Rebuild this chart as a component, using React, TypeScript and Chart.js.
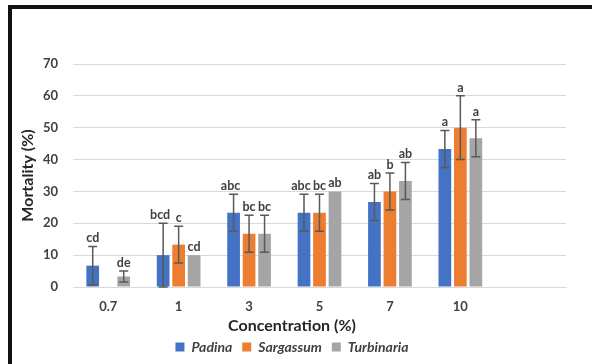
import React, { useEffect, useRef } from "react";
import { Chart, registerables } from "chart.js";

Chart.register(...registerables);

const categories = ["0.7", "1", "3", "5", "7", "10", ""];
const padina = [6.7, 10, 23.3, 23.3, 26.7, 43.3, null];
const padinaErr = [6, 10, 5.8, 5.8, 5.8, 5.8, null];
const padinaLetters = ["cd", "bcd", "abc", "abc", "ab", "a", ""];
const sargassum = [null, 13.3, 16.7, 23.3, 30, 50, null];
const sargassumErr = [null, 5.8, 5.8, 5.8, 5.8, 10, null];
const sargassumLetters = ["", "c", "bc", "bc", "b", "a", ""];
const turbinaria = [3.3, 10, 16.7, 30, 33.3, 46.7, null];
const turbinariaErr = [1.7, 0, 5.8, 0, 5.8, 5.8, null];
const turbinariaLetters = ["de", "cd", "bc", "ab", "ab", "a", ""];
const yTicks = [0, 10, 20, 30, 40, 50, 60, 70];

const FONT = "Lato, 'Open Sans', sans-serif";

const errorPlugin = {
  id: "errorBarsLetters",
  afterDatasetsDraw(chart: any) {
    const ctx = chart.ctx;
    const yScale = chart.scales.y;
    chart.data.datasets.forEach((ds: any, i: number) => {
      const meta = chart.getDatasetMeta(i);
      meta.data.forEach((el: any, j: number) => {
        const v = ds.data[j];
        if (v === null || v === undefined) return;
        const e = ds.errors[j] || 0;
        const x = el.x;
        const yTop = yScale.getPixelForValue(v + e);
        const yBot = yScale.getPixelForValue(Math.max(0, v - e));
        ctx.save();
        if (e > 0) {
          ctx.strokeStyle = "#595959";
          ctx.lineWidth = 1.5;
          ctx.beginPath();
          ctx.moveTo(x, yTop);
          ctx.lineTo(x, yBot);
          ctx.moveTo(x - 4.5, yTop);
          ctx.lineTo(x + 4.5, yTop);
          ctx.moveTo(x - 4.5, yBot);
          ctx.lineTo(x + 4.5, yBot);
          ctx.stroke();
        }
        const letter = ds.letters[j];
        if (letter) {
          ctx.fillStyle = "#404040";
          ctx.font = "bold 12.5px " + FONT;
          ctx.textAlign = "center";
          ctx.textBaseline = "bottom";
          const shift = i === 0 && letter.length > 2 ? -3 : 0;
          ctx.fillText(letter, x + shift, yTop - 2);
        }
        ctx.restore();
      });
    });
  },
};

export default function App() {
  const ref = useRef<HTMLCanvasElement>(null);
  useEffect(() => {
    document.body.style.margin = "0";
    const chart = new Chart(ref.current as HTMLCanvasElement, {
      type: "bar",
      data: {
        labels: categories,
        datasets: [
          { label: "Padina", data: padina, backgroundColor: "#4472C4", errors: padinaErr, letters: padinaLetters } as any,
          { label: "Sargassum", data: sargassum, backgroundColor: "#ED7D31", errors: sargassumErr, letters: sargassumLetters } as any,
          { label: "Turbinaria", data: turbinaria, backgroundColor: "#A5A5A5", errors: turbinariaErr, letters: turbinariaLetters } as any,
        ],
      },
      options: {
        responsive: false,
        animation: false,
        layout: { padding: { left: 18, right: 26, top: 64, bottom: 0 } },
        datasets: { bar: { categoryPercentage: 0.66, barPercentage: 0.82 } },
        plugins: {
          tooltip: { enabled: false },
          title: {
            display: true,
            position: "bottom",
            weight: 500,
            text: "Concentration (%)",
            color: "#262626",
            padding: { top: 4, bottom: -4 },
            font: { family: FONT, size: 16, weight: "bold", lineHeight: 1 },
          },
          legend: {
            position: "bottom",
            labels: {
              boxWidth: 9,
              boxHeight: 9,
              padding: 10,
              color: "#404040",
              font: { family: FONT, size: 14, weight: "bold", style: "italic" },
            },
          },
        },
        scales: {
          x: {
            grid: { display: false, drawTicks: false },
            border: { color: "#d9d9d9" },
            ticks: { color: "#404040", padding: 12, font: { family: FONT, size: 13, weight: "bold" } },
            afterFit: (scale: any) => {
              scale.height = 27;
            },
          },
          y: {
            min: 0,
            max: 70,
            afterBuildTicks: (scale: any) => {
              scale.ticks = yTicks.map((v) => ({ value: v }));
            },
            afterFit: (scale: any) => {
              scale.width = 55;
            },
            grid: { color: "#d9d9d9", drawTicks: false },
            border: { display: false },
            ticks: { color: "#404040", padding: 15, font: { family: FONT, size: 13, weight: "bold" } },
            title: {
              display: true,
              text: "Mortality (%)",
              color: "#262626",
              padding: 0,
              font: { family: FONT, size: 16, weight: "bold" },
            },
          },
        },
      },
      plugins: [errorPlugin],
    } as any);
    return () => chart.destroy();
  }, []);
  return (
    <div style={{ position: "relative", width: 592, height: 364, background: "#fff" }}>
      <canvas ref={ref} width={592} height={364} />
      <div
        style={{
          position: "absolute",
          left: 8,
          top: 5,
          right: 0,
          bottom: 0,
          borderTop: "4px solid #111",
          borderLeft: "4px solid #111",
          pointerEvents: "none",
        }}
      />
    </div>
  );
}
